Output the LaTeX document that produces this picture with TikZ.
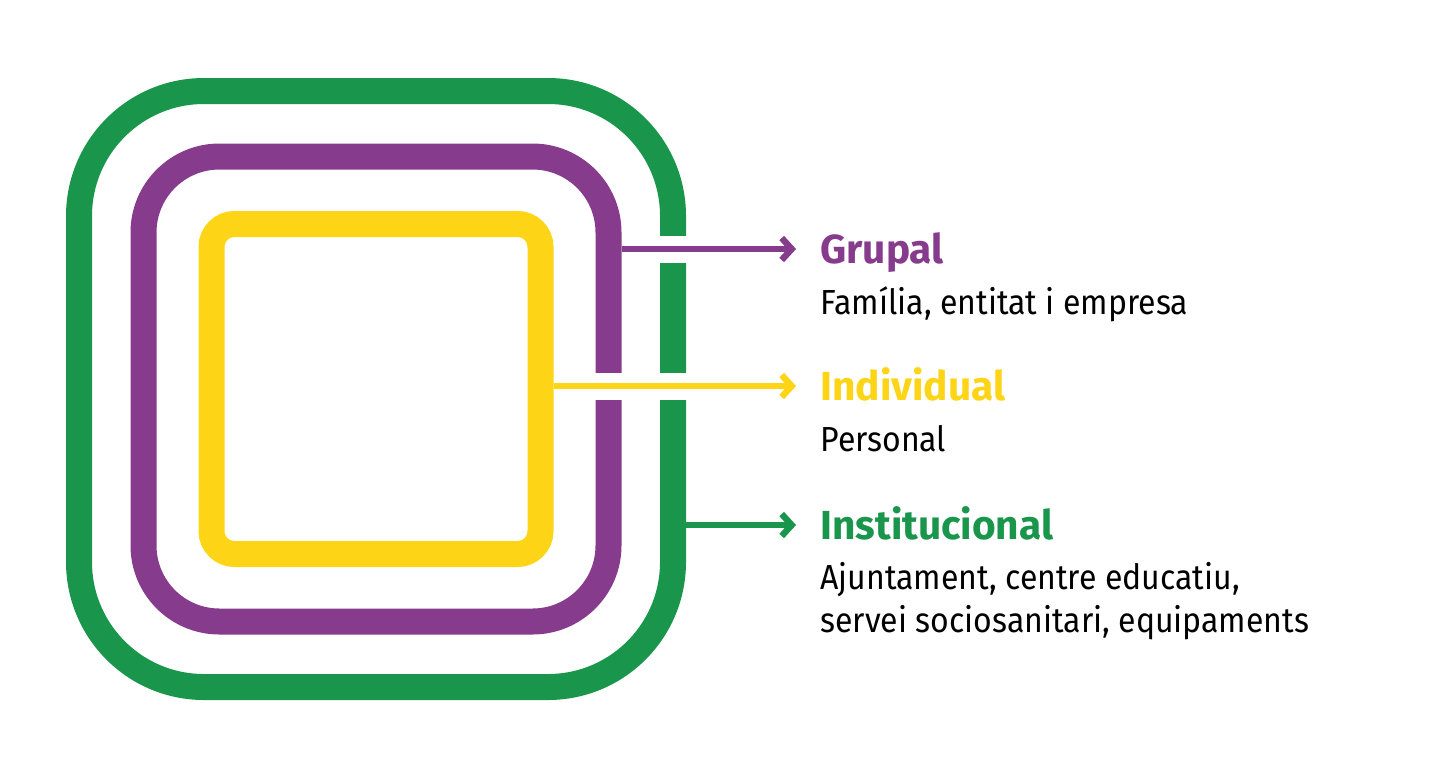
\documentclass[tikz,border=0pt]{standalone}
\usepackage{fontspec}
\setmainfont{Fira Sans}
\newfontfamily\bodyfont{Fira Sans}[FakeStretch=0.92]
\usetikzlibrary{arrows.meta}

\definecolor{instgreen}{HTML}{1A964C}
\definecolor{grupurple}{HTML}{873B8C}
\definecolor{indyellow}{HTML}{FDD416}

\tikzset{
  ring/.style={draw=#1, line width=13pt, fill=none, inner sep=0pt},
  levelarrow/.style={draw=#1, line width=3.2pt,
    -{Straight Barb[length=5pt,width=11pt,line width=3.2pt]}},
  gapline/.style={draw=white, line width=13.5pt},
  title/.style={anchor=base west, inner sep=0pt, text height=14pt, text depth=0pt,
    font=\fontsize{20.3}{24}\selectfont\bfseries, text=#1},
  body/.style={anchor=base west, inner sep=0pt, align=left,
    font=\bodyfont\fontsize{17.4}{21.5}\selectfont}
}

\begin{document}
\begin{tikzpicture}[x=0.5pt, y=-0.5pt]
    \useasboundingbox (0,0) rectangle (1444,768);

    % rings
    \node[ring=instgreen, rounded corners=62.5pt, minimum width=297pt, minimum height=298pt] (inst) at (376,389) {};
    \node[ring=grupurple, rounded corners=38pt, minimum width=232.5pt, minimum height=232.5pt] (grup) at (inst.center) {};
    \node[ring=indyellow, rounded corners=11.5pt, minimum width=164.5pt, minimum height=165pt] (ind) at (inst.center) {};

    % titles
    \node[title=grupurple] (tgrup) at (820,263) {Grupal};
    \node[title=indyellow] (tind) at (820,400) {Individual};
    \node[title=instgreen] (tinst) at (820,539) {Institucional};

    % descriptions (base = last line)
    \node[body] (dgrup) at (820,314) {Família, entitat i empresa};
    \node[body] (dind) at (820,451) {Personal};
    \node[body] (dinst) at (820,632) {Ajuntament, centre educatiu,\\servei sociosanitari, equipaments};

    % gaps in the rings
    \draw[gapline] ([xshift=-14pt]inst.east |- tgrup.west) -- ([xshift=2pt]inst.east |- tgrup.west);
    \draw[gapline] ([xshift=-14pt]grup.east |- tind.west) -- ([xshift=2pt]inst.east |- tind.west);

    % arrows
    \draw[levelarrow=grupurple] (grup.east |- tgrup.west) -- ([xshift=-12pt]tgrup.west);
    \draw[levelarrow=indyellow] (ind.east |- tind.west) -- ([xshift=-12pt]tind.west);
    \draw[levelarrow=instgreen] (inst.east |- tinst.west) -- ([xshift=-12pt]tinst.west);
\end{tikzpicture}
\end{document}
